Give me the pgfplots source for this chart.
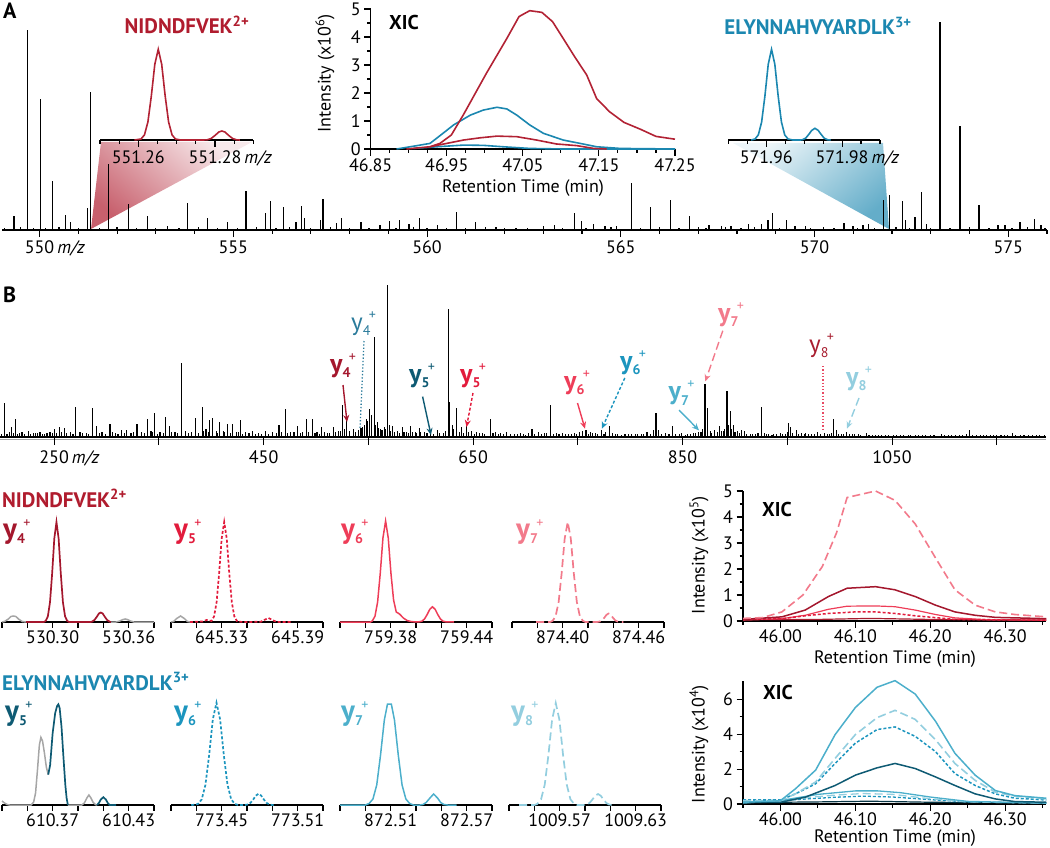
\documentclass[border=0pt]{standalone}
\usepackage{fontspec}
\setmainfont{PT Sans}
\usepackage{pgfplots}
\pgfplotsset{compat=1.18}
\usetikzlibrary{arrows.meta}
\newcommand\fs[1]{\fontsize{#1}{#1}\selectfont}
\definecolor{nred}{RGB}{176,28,46}
\definecolor{ared}{RGB}{178,34,52}
\definecolor{eblue}{RGB}{27,135,176}
\definecolor{r4}{RGB}{164,23,45}
\definecolor{r5}{RGB}{226,27,60}
\definecolor{r6}{RGB}{238,61,88}
\definecolor{r7}{RGB}{242,122,139}
\definecolor{r8}{RGB}{168,30,48}
\definecolor{b4}{RGB}{43,123,155}
\definecolor{b5}{RGB}{14,90,115}
\definecolor{b6}{RGB}{28,149,190}
\definecolor{b7}{RGB}{76,175,203}
\definecolor{b8}{RGB}{147,206,223}
% ion label: colour, series, digit, size of y
\newcommand\ion[4]{\textcolor{#1}{\fs{#4}#2y\fs{14}\raisebox{-0.42em}{#2#3}\kern-0.12em\raisebox{0.78em}{\mdseries+}}}
\tikzset{
 sdash/.style={dash pattern=on 3pt off 2pt},
 ldash/.style={dash pattern=on 8pt off 4pt},
}
\pgfplotsset{
 base/.style={scale only axis, clip=false, tick align=outside,
   tick style={line width=1.1pt, black},
   major tick length=7pt, minor tick length=4pt,
   tick label style={font=\fs{18}},
   /pgf/number format/assume math mode=true},
 xonly/.style={base, axis x line*=bottom, axis y line=none, axis line style={line width=1.1pt,-}, ymin=0, ytick=\empty},
 xyax/.style={base, axis x line*=bottom, axis y line*=left, axis line style={line width=1.1pt,-}},
 mini/.style={xonly, width=152pt, height=105pt, xmin=0, xmax=120, ymax=105, xtick={0,20,40,60,80,100,120}, major tick length=5.5pt},
}
\begin{document}
\begin{tikzpicture}
\path[use as bounding box] (0pt,0pt) rectangle (1050pt,-848pt);
% ---------- wedges ----------
\shade[top color=ared!10, bottom color=ared!72, shading angle=-40] (101pt,-142pt) -- (252pt,-142pt) -- (91pt,-229pt) -- cycle;
\shade[top color=eblue!8, bottom color=eblue!68, shading angle=40] (733pt,-143pt) -- (883pt,-143pt) -- (889pt,-229pt) -- cycle;
% ---------- Panel A spectrum ----------
\begin{axis}[xonly, at={(2pt,-230pt)}, anchor=south west, width=1045pt, height=210pt,
  xmin=549.03, xmax=576.0, ymax=210,
  xtick={550,555,560,565,570,575}, xticklabels={550\rlap{\,\textit{m/z}},555,560,565,570,575},
  minor xtick={551,552,553,554,556,557,558,559,561,562,563,564,566,567,568,569,571,572,573,574,576},
  minor tick length=3.5pt]
\addplot[ycomb, line width=1.3pt, black] coordinates {
(549.338,14) (549.686,200) (550.018,131) (550.340,49) (550.670,15) (550.801,8) (551.237,22) (551.306,138) (551.778,66) (552.298,26) (552.778,14) (553.301,4) (553.824,27) (554.329,12.5) (554.852,8.5) (555.331,39) (555.826,17) (555.968,29) (556.290,22.6) (556.619,8.5) (556.751,23.7) (556.838,12.5) (557.248,10) (557.318,31) (557.655,7) (557.797,12) (558.292,8.5) (558.789,5) (559.034,9) (559.294,10) (559.536,6) (559.799,12.5) (560.271,5) (560.758,18) (561.255,8.5) (561.778,3) (562.298,2) (563.007,4) (563.285,5) (563.808,17) (563.981,9) (564.303,6) (564.592,4) (564.896,4) (565.272,47) (565.767,23) (566.274,30) (566.769,14) (567.014,3) (567.274,5) (567.596,4) (567.841,4) (568.294,6) (568.624,6) (568.799,10) (568.920,17) (569.268,10) (569.495,4) (569.758,4) (570.237,3) (570.760,7) (570.994,4) (571.254,5) (571.386,6) (571.775,30) (571.930,35) (572.265,29) (572.343,10) (572.592,13) (572.762,38) (572.883,6) (573.236,208) (573.751,104) (574.241,25) (574.738,5) (574.918,5) (575.304,8) (575.684,11) (575.847,5)
(549.1,2)(549.2,1.5)(549.5,3)(549.85,2)(550.15,2)(550.5,3)(551.0,2)(551.55,2.5)(552.0,3)(552.5,2)(553.0,2.5)(553.6,2)(554.1,3)(554.6,2)(555.1,2.5)(555.6,3)(556.1,2)(556.45,3)(557.0,2.5)(557.5,3)(558.0,2)(558.5,2.5)(559.2,2)(559.65,3)(560.0,2)(560.5,2.5)(561.0,2)(561.5,3)(562.0,2)(562.6,2.5)(563.5,2)(564.1,2.5)(564.75,3)(565.5,2)(566.0,3)(566.5,2)(567.2,2)(567.7,3)(568.1,2.5)(568.45,3)(569.1,2)(569.9,2.5)(570.5,2)(571.1,2.5)(571.55,2)(572.1,3)(572.45,2.5)(573.0,2)(573.5,2.5)(574.0,3)(574.5,2)(575.1,2.5)(575.5,3)(575.95,2)};
\end{axis}
% inset NIDNDFVEK (x = (m/z - 551.25) x 1000)
\begin{axis}[xonly, at={(100pt,-140pt)}, anchor=south west, width=153.3pt, height=100pt,
  xmin=0, xmax=40, ymax=100, xtick={10,30}, xticklabels={551.26,551.28\rlap{\,\textit{m/z}}},
  minor xtick={0,5,15,20,25,35,40}, major tick length=6.7pt]
\addplot[ared, line width=1.6pt] coordinates {(9.0,0)(10.7,1.0)(11.6,5.1)(12.5,18)(13.4,44.2)(14.3,75.7)(15.2,90.7)(16.1,75.7)(17.0,44.2)(17.9,18)(18.8,5.1)(19.7,1.0)(21,0)(27,0)(28,0.2)(29,1.5)(30,4.5)(31,8)(31.8,9)(32.6,8)(33.6,4.5)(34.6,1.5)(35.6,0.2)(36.5,0)};
\end{axis}
\node[font=\fs{21}\bfseries, text=nred] at (187pt,-25pt) {NIDNDFVEK\textsuperscript{2+}};
% inset ELYNNAHVYARDLK (x = (m/z - 571.95) x 1000)
\begin{axis}[xonly, at={(728.3pt,-140pt)}, anchor=south west, width=151.7pt, height=100pt,
  xmin=0, xmax=40, ymax=100, xtick={10,30}, xticklabels={571.96,571.98\rlap{\,\textit{m/z}}},
  minor xtick={0,5,15,20,25,35,40}, major tick length=6.7pt]
\addplot[eblue, line width=1.6pt] coordinates {(6.0,0)(7.05,1.0)(7.92,5.1)(8.79,18)(9.66,44.2)(10.53,75.7)(11.4,90.7)(12.27,75.7)(13.14,44.2)(14.01,18)(14.88,5.1)(15.75,1.0)(17,0)(19,0)(19.5,0.2)(20.4,1.8)(21.2,5.5)(22.0,9.6)(22.85,11.7)(23.7,9.6)(24.5,5.5)(25.3,1.8)(26.2,0.2)(27,0)};
\end{axis}
\node[font=\fs{21}\bfseries, text=eblue] at (818pt,-26pt) {ELYNNAHVYARDLK\textsuperscript{3+}};
% XIC inset A
\begin{axis}[xyax, at={(370.7pt,-149pt)}, anchor=south west, width=304.3pt, height=140pt,
  xmin=46.85, xmax=47.25, ymin=0, ymax=5,
  xtick={46.85,46.95,47.05,47.15,47.25}, xticklabels={46.85,46.95,47.05,47.15,47.25},
  minor xtick={46.875,46.9,46.925,46.975,47.0,47.025,47.075,47.1,47.125,47.175,47.2,47.225},
  ytick={0,1,2,3,4,5}, minor ytick={0.5,1.5,2.5,3.5,4.5}, major tick length=6.5pt, minor tick length=3.5pt]
\addplot[eblue, line width=1.6pt] coordinates {(46.906,0.02)(46.937,0.08)(46.972,0.14)(46.998,0.13)(47.024,0.08)(47.059,0.02)(47.103,0)(47.25,0)};
\addplot[eblue, line width=1.6pt] coordinates {(46.884,0)(46.902,0.08)(46.928,0.2)(46.945,0.56)(46.959,0.86)(46.981,1.21)(46.998,1.39)(47.016,1.49)(47.029,1.43)(47.042,1.21)(47.059,0.86)(47.077,0.56)(47.103,0.32)(47.129,0.18)(47.147,0.08)(47.178,0.02)(47.25,0)};
\addplot[ared, line width=1.6pt] coordinates {(46.928,0.08)(46.95,0.2)(46.972,0.32)(46.994,0.4)(47.016,0.46)(47.042,0.44)(47.068,0.32)(47.094,0.18)(47.121,0.12)(47.143,0.02)(47.16,0)};
\addplot[ared, line width=1.6pt] coordinates {(46.897,0)(46.928,0.08)(46.941,0.2)(46.956,0.5)(46.972,1.23)(47.002,2.7)(47.029,3.95)(47.045,4.73)(47.059,4.94)(47.075,4.88)(47.089,4.55)(47.103,3.95)(47.118,3.3)(47.134,2.64)(47.147,1.8)(47.164,1.33)(47.183,0.95)(47.205,0.7)(47.225,0.45)(47.25,0.35)};
\end{axis}
\node[font=\fs{20}\bfseries] at (404pt,-22.5pt) {XIC};
\node[font=\fs{18}, rotate=90] at (325pt,-73.5pt) {Intensity (x10\textsuperscript{6})};
\node[font=\fs{18}] at (523pt,-188pt) {Retention Time (min)};
\node[anchor=base west, inner sep=0, font=\fs{22}\bfseries] at (3pt,-19pt) {A};
% ---------- Panel B spectrum ----------
\node[anchor=base west, inner sep=0, font=\fs{22}\bfseries] at (3pt,-302pt) {B};
\draw[black!35, line width=1.8pt] (0pt,-439.5pt) -- (1046pt,-439.5pt);
\begin{axis}[xonly, at={(0pt,-437pt)}, anchor=south west, width=1046pt, height=160pt,
  xmin=198.3, xmax=1197, ymax=160,
  xtick={250,350,450,550,650,750,850,950,1050,1150},
  xticklabels={250\rlap{\,\textit{m/z}},,450,,650,,850,,1050,},
  major tick length=8pt, xticklabel style={yshift=-2pt}]
\addplot[ycomb, line width=1.1pt, black] coordinates {
(202.3,34)(209.0,10)(213.5,17.6)(219.3,5)(225.1,6)(229.9,4)(236.5,5)(243.2,4)(250.0,8)(254.9,10)(259.6,9)(265.2,5)(270.0,30)(274.7,5)(280.5,4)(286.2,29)(290.3,11)(295.7,5)(303.3,13.5)(308.2,4)(314.6,7)(319.4,7)(323.4,4)(329.1,13.5)(333.0,5)(338.8,18)(342.5,6)(346.2,24)(351.1,5)(356.6,20)(359.7,11)(365.4,5)(372.0,74)(377.9,4)(384.9,19)(391.4,30)(395.0,8)(398.5,17)(401.1,19)(404.6,6)(408.1,15)(411.3,6)(415.3,13.5)(420.4,13.5)(423.7,5)(427.5,17)(432.3,5)(439.0,6)(444.7,4)(451.4,6)(458.1,5)(464.7,12.5)(470.5,28)(475.3,5)(482.4,11)(486.7,5)(490.5,18)(496.9,17.6)(501.0,5)(505.0,10)(510.6,4)(516.3,10)(521.1,6)(525.0,32)(529.2,17.6)(535.7,8)(540.6,7)(544.0,10)(547.8,18)(550.7,28)(552.6,22)(555.7,100)(558.3,15)(561.2,8)(565.0,10)(568.0,152)(569.8,12)(572.8,11)(577.4,6)(582.5,10)(586.0,5)(590.6,11)(594.6,5)(598.6,9)(603.2,5)(608.9,6)(616.4,7)(621.3,4)(626.1,128)(627.7,35)(629.9,12)(634.1,29)(639.0,10)(643.8,11)(648.1,6)(653.5,5)(658.6,4)(666.4,18)(671.0,5)(676.1,4)(681.5,5)(689.1,3)(694.9,4)(700.3,2)(706.2,8)(712.1,5)(717.8,4)(723.9,32)(729.3,4)(735.3,4)(740.7,3)(746.4,4)(751.4,5)(754.6,6)(757.8,7)(761.7,5)(766.5,4)(772.3,7)(776.0,5)(780.4,11.5)(785.6,3)(791.7,2)(798.0,3)(804.7,3)(810.4,3)(816.0,5)(822.4,7)(824.6,24)(827.2,7)(833.3,4)(840.1,11.5)(846.7,3)(853.1,2)(857.2,3)(862.7,4)(867.6,5)(871.4,53)(873.4,29)(876.3,6)(880.5,7)(885.4,11.5)(888.7,6)(892.4,46)(895.7,26)(898.3,12.5)(902.1,6)(906.3,7)(909.5,6)(914.5,3)(919.3,3)(925.0,30)(929.8,3)(935.4,2)(939.3,3)(943.4,4)(947.9,3)(951.5,14)(953.2,10)(958.9,7)(963.2,4)(967.7,4)(972.8,3)(979.0,5)(985.5,4)(990.0,3)(994.4,17.6)(996.7,7)(1001.4,3)(1006.4,5)(1011.9,3)(1017.6,3)(1025.7,4)(1031.0,2)(1037.1,2)(1043.4,2)(1051.1,2)(1057.7,2)(1065.4,2)(1072.1,2)(1078.8,2)(1086.4,2)(1096.8,3)(1103.6,2)(1110.3,2)(1117.0,2)(1124.2,7)(1130.3,2)(1137.2,2)(1143.7,2)(1150.1,2)(1157.1,2)(1164.6,4)(1172.3,2)(1180.0,2)(1187.6,2)(1195.3,2)
(200,3)(205,3)(207,5)(211,4)(215,3)(217,4)(222,3)(227,3)(232,4)(234,4)(239,3)(241,3)(246,5)(248,4)(252,4)(257,5)(262,4)(268,3)(277,4)(283,3)(293,4)(299,3)(306,5)(311,3)(317,4)(326,5)(336,4)(344,5)(349,3)(354,4)(362,5)(368,4)(375,6)(381,5)(388,4)(393,6)(397,5)(406,4)(413,5)(418,4)(426,5)(430,3)(436,4)(442,3)(448,3)(455,3)(462,4)(467,5)(473,4)(479,5)(485,4)(493,5)(499,4)(503,3)(508,5)(513,4)(519,5)(523,6)(527,8)(532,6)(538,5)(543,9)(546,12)(549,16)(553,18)(557,12)(560,9)(563,7)(566,8)(571,6)(575,5)(580,4)(584,5)(588,4)(592,5)(596,4)(600,5)(606,4)(612,3)(618,4)(624,6)(631,8)(637,5)(641,4)(646,5)(651,3)(656,4)(661,3)(669,4)(674,3)(679,3)(686,3)(692,3)(698,3)(703,4)(709,3)(715,3)(720,4)(727,3)(732,3)(738,3)(744,3)(749,3)(760,3)(764,4)(769,3)(775,3)(783,4)(788,3)(795,3)(801,3)(807,3)(813,3)(819,3)(830,3)(837,3)(843,3)(849,4)(855,3)(860,4)(865,5)(869,8)(878,4)(883,5)(887,6)(890,8)(894,12)(897,8)(900,5)(904,4)(911,3)(917,3)(922,4)(928,4)(932,3)(937,3)(945,3)(950,5)(955,4)(961,3)(966,3)(970,3)(976,3)(982,3)(988,3)(992,4)(999,3)(1004,3)(1009,3)(1014,3)(1020,2)(1028,2)(1034,2)(1040,2)(1047,2)(1054,2)(1061,2)(1068,2)(1075,2)(1082,2)(1090,2)(1100,2)(1107,2)(1114,2)(1121,3)(1127,2)(1134,2)(1140,2)(1147,2)(1154,2)(1160,2)(1168,2)(1176,2)(1184,2)(1191,2)};
\end{axis}
% annotations B
\draw[b4, line width=1.3pt, dotted] (364pt,-341pt) -- (360pt,-429pt);
\node[anchor=base west, inner sep=0] at (351pt,-330pt) {\ion{b4}{\mdseries}{4}{25}};
\draw[r4, line width=1.4pt, -{Stealth[length=7pt,width=6pt]}] (343pt,-385pt) -- (347pt,-422pt);
\node[anchor=base west, inner sep=0] at (330pt,-372pt) {\ion{r4}{\bfseries}{4}{26}};
\draw[b5, line width=1.4pt, -{Stealth[length=7pt,width=6pt]}] (422.6pt,-396.6pt) -- (431pt,-435pt);
\node[anchor=base west, inner sep=0] at (409pt,-382pt) {\ion{b5}{\bfseries}{5}{26}};
\draw[r5, line width=1.4pt, sdash, -{Stealth[length=7pt,width=6pt]}] (473pt,-393pt) -- (466.5pt,-427pt);
\node[anchor=base west, inner sep=0] at (460pt,-382pt) {\ion{r5}{\bfseries}{5}{26}};
\draw[r6, line width=1.4pt, -{Stealth[length=7pt,width=6pt]}] (577.5pt,-403pt) -- (585pt,-428.7pt);
\node[anchor=base west, inner sep=0] at (564pt,-389pt) {\ion{r6}{\bfseries}{6}{26}};
\draw[b6, line width=1.4pt, sdash, -{Stealth[length=7pt,width=6pt]}] (624.8pt,-378pt) -- (601.8pt,-428.7pt);
\node[anchor=base west, inner sep=0] at (620pt,-369pt) {\ion{b6}{\bfseries}{6}{26}};
\draw[r7, line width=1.4pt, ldash, -{Stealth[length=7pt,width=6pt]}] (722.8pt,-330.7pt) -- (705.3pt,-381.4pt);
\node[anchor=base west, inner sep=0] at (718pt,-321pt) {\ion{r7}{\bfseries}{7}{26}};
\draw[b7, line width=1.4pt, -{Stealth[length=7pt,width=6pt]}] (679pt,-410pt) -- (699pt,-430.4pt);
\node[anchor=base west, inner sep=0] at (668.5pt,-399.5pt) {\ion{b7}{\bfseries}{7}{26}};
\draw[r5!80, line width=1.3pt, dotted] (823pt,-366pt) -- (823pt,-430pt);
\node[anchor=base west, inner sep=0] at (809pt,-352pt) {\ion{r8}{\mdseries}{8}{25}};
\draw[b8, line width=1.4pt, ldash, -{Stealth[length=7pt,width=6pt]}] (859pt,-398pt) -- (847pt,-428.7pt);
\node[anchor=base west, inner sep=0] at (846pt,-385pt) {\ion{b8}{\bfseries}{8}{26}};
% ---------- Row 1: NIDNDFVEK fragments (x = (m/z - left) x 1000) ----------
\node[anchor=base west, inner sep=0, font=\fs{21}\bfseries, text=nred] at (2pt,-507pt) {NIDNDFVEK\textsuperscript{2+}};
\begin{axis}[mini, at={(2pt,-622pt)}, anchor=south west, xticklabels={,,530.30,,,530.36,}]
\addplot[black!35, line width=1.5pt] coordinates {(0,0)(2,0.5)(5,3)(7,5.5)(9,6)(11,5.5)(13,3)(16,0.5)(19,0)};
\addplot[black!35, line width=1.5pt] coordinates {(86,0)(90,0)(93,1)(95.5,2.5)(97.3,3)(99,2.5)(101.5,1)(104,0)(120,0)};
\addplot[r4, line width=1.7pt] coordinates {(19,0)(33,0)(34.5,1.1)(36.2,5.6)(37.9,19.8)(39.6,48.7)(41.3,83.5)(43,100)(44.7,83.5)(46.4,48.7)(48.1,19.8)(49.8,5.6)(51.5,1.1)(53,0)(70,0)(71,0.3)(73,2)(75,5.5)(76.5,8.5)(78,9.5)(79.5,8.5)(81,5.5)(83,2)(85,0.3)(86,0)};
\end{axis}
\node[anchor=base west, inner sep=0] at (3pt,-538pt) {\ion{r4}{\bfseries}{4}{29}};
\begin{axis}[mini, at={(171pt,-622pt)}, anchor=south west, xticklabels={,,645.33,,,645.39,}]
\addplot[black!35, line width=1.5pt] coordinates {(0,0)(2,0.5)(4.5,3.5)(7.6,6)(10.5,3.5)(13,0.5)(15,0)};
\addplot[r5, line width=1.7pt, sdash] coordinates {(15,0)(25,0.5)(28,2)(30,1.5)(32,1.1)(34,5.6)(36,19.8)(38,48.7)(40,83.5)(42,100)(44,83.5)(46,48.7)(48,19.8)(50,5.6)(52,1.1)(54,0.2)(60,0)(71,0.3)(73.5,2)(77,4)(80,2)(83,0.3)(86,0)(95,0)};
\end{axis}
\node[anchor=base west, inner sep=0] at (174pt,-538pt) {\ion{r5}{\bfseries}{5}{29}};
\begin{axis}[mini, at={(340pt,-622pt)}, anchor=south west, xticklabels={,,759.38,,,759.44,}]
\addplot[r6, line width=1.5pt] coordinates {(0,0)(24,0)(25.5,1.1)(27.6,5.7)(29.7,20)(31.8,49)(33.9,84)(36,101)(38.1,84)(40.2,49)(42.3,22)(44.4,10)(47,8)(50,4)(53,1.5)(56,0.5)(60,0)(62.5,0.2)(64.6,0.8)(66.7,3)(68.8,7.4)(70.9,12.7)(73,15.2)(75.1,12.7)(77.2,7.4)(79.3,3)(81.4,0.8)(83.5,0.2)(90,0)};
\end{axis}
\node[anchor=base west, inner sep=0] at (341pt,-538pt) {\ion{r6}{\bfseries}{6}{29}};
\begin{axis}[mini, at={(512pt,-622pt)}, anchor=south west, xticklabels={,,874.40,,,874.46,}]
\addplot[r7, line width=1.7pt, ldash] coordinates {(19,0)(30,0)(32,1.1)(34.4,5.6)(36.8,19.8)(39.2,48.7)(41.6,83.5)(44,100)(46.4,83.5)(48.8,48.7)(51.2,19.8)(53.6,5.6)(56,1.1)(58,0)(66,0)(67.5,0.1)(69.3,0.5)(71,1.7)(72.8,4.1)(74.5,7.1)(76.3,8.5)(78,7.1)(79.8,4.1)(81.5,1.7)(83.3,0.5)(85,0.1)(88,0)};
\end{axis}
\node[anchor=base west, inner sep=0] at (516pt,-538pt) {\ion{r7}{\bfseries}{7}{29}};
% XIC row 1
\begin{axis}[xyax, at={(743pt,-621pt)}, anchor=south west, width=303.3pt, height=130pt,
  xmin=45.95, xmax=46.355, ymin=0, ymax=5, xticklabel style={inner sep=1.5pt},
  xtick={46.0,46.1,46.2,46.3}, xticklabels={46.00,46.10,46.20,46.30}, minor xtick={45.95,46.05,46.15,46.25,46.35},
  ytick={0,1,2,3,4,5}, minor ytick={0.5,1.5,2.5,3.5,4.5}, major tick length=6.5pt, minor tick length=3.5pt]
\addplot[r8, line width=1.2pt] coordinates {(45.95,0.05)(46.05,0.06)(46.12,0.1)(46.2,0.06)(46.355,0.04)};
\addplot[r6, line width=1.2pt] coordinates {(45.95,0.04)(46.002,0.09)(46.033,0.22)(46.064,0.45)(46.089,0.57)(46.127,0.58)(46.153,0.55)(46.18,0.42)(46.207,0.25)(46.233,0.12)(46.276,0.05)(46.355,0.03)};
\addplot[r5, line width=1.5pt, sdash] coordinates {(45.95,0.06)(46.002,0.09)(46.033,0.2)(46.064,0.29)(46.1,0.35)(46.127,0.35)(46.153,0.29)(46.18,0.2)(46.207,0.13)(46.233,0.06)(46.355,0.03)};
\addplot[r4, line width=1.5pt] coordinates {(45.95,0.06)(46.002,0.16)(46.033,0.42)(46.064,0.94)(46.089,1.26)(46.127,1.32)(46.153,1.2)(46.18,0.94)(46.207,0.61)(46.233,0.35)(46.26,0.22)(46.287,0.14)(46.355,0.09)};
\addplot[r7, line width=1.6pt, ldash] coordinates {(45.95,0.1)(45.976,0.13)(46.002,0.35)(46.03,1.0)(46.056,2.1)(46.075,3.4)(46.089,4.75)(46.127,5.0)(46.153,4.64)(46.18,3.73)(46.207,2.43)(46.233,1.2)(46.26,0.61)(46.287,0.35)(46.313,0.25)(46.355,0.16)};
\end{axis}
\node[font=\fs{20}\bfseries] at (777pt,-509pt) {XIC};
\node[font=\fs{18}, rotate=90] at (699pt,-555pt) {Intensity (x10\textsuperscript{5})};
\node[font=\fs{18}, inner sep=1pt] at (895pt,-659pt) {Retention Time (min)};
% ---------- Row 2: ELYNNAHVYARDLK fragments ----------
\node[anchor=base west, inner sep=0, font=\fs{21}\bfseries, text=eblue] at (2pt,-690pt) {ELYNNAHVYARDLK\textsuperscript{3+}};
\begin{axis}[mini, at={(2pt,-805pt)}, anchor=south west, xticklabels={,,610.37,,,610.43,}]
\addplot[black!35, line width=1.5pt] coordinates {(0,4)(2,2)(4,0.5)(6,0)(23,0)(25,3)(26.5,12)(28,35)(29.5,60)(30.7,67.6)(32,64)(33.5,52)(35,38)(36.5,30.4)};
\addplot[black!35, line width=1.5pt] coordinates {(52,0)(63,0)(65,2)(67,7)(68.6,10)(70,7.5)(72,2.5)(74,0.3)(75,0)};
\addplot[b5, line width=1.7pt] coordinates {(36.5,30.4)(38,40)(40,72)(42,92)(43.5,99)(44.5,100.7)(45.5,97)(47,78)(48.5,48)(50,20)(51,7)(52,0)};
\addplot[b5, line width=1.7pt] coordinates {(75,0)(76.5,2)(78,5.5)(80,7.8)(82,5.5)(83.5,2)(85,0)(90,0)};
\end{axis}
\node[anchor=base west, inner sep=0] at (5pt,-720pt) {\ion{b5}{\bfseries}{5}{29}};
\begin{axis}[mini, at={(171pt,-805pt)}, anchor=south west, xticklabels={,,773.45,,,773.51,}]
\addplot[b6, line width=1.7pt, sdash] coordinates {(16,0)(19,0.3)(21.4,1.1)(24.3,5.7)(27.2,20.3)(30.1,49.9)(33.0,85.5)(35.9,102.4)(38.8,85.5)(41.7,49.9)(44.6,20.3)(47.5,5.7)(50.4,1.1)(53,0)(57,0)(58.6,0.1)(60.7,0.6)(62.8,2.2)(64.9,5.5)(67.0,9.4)(69.1,11.2)(71.2,9.4)(73.3,5.5)(75.4,2.2)(77.5,0.6)(79.6,0.1)(82,0)};
\end{axis}
\node[anchor=base west, inner sep=0] at (174pt,-720pt) {\ion{b6}{\bfseries}{6}{29}};
\begin{axis}[mini, at={(340pt,-805pt)}, anchor=south west, xticklabels={,,872.51,,,872.57,}]
\addplot[b7, line width=1.5pt] coordinates {(0,0)(20,0)(23,1.5)(26,6)(29,20)(32,50)(35,85)(37.5,101)(40.5,101)(43,85)(46,50)(49,20)(52,6)(55,1.5)(58,0)(63,0)(65.5,0.5)(68,2.5)(71,7)(73.9,11)(77,7)(79.5,2.5)(82,0.5)(85,0)(92,0)};
\end{axis}
\node[anchor=base west, inner sep=0] at (341pt,-720pt) {\ion{b7}{\bfseries}{7}{29}};
\begin{axis}[mini, at={(509pt,-805pt)}, anchor=south west, xticklabels={,,1009.57,,,1009.63,}]
\addplot[b8, line width=1.7pt, ldash] coordinates {(8,0)(20,0)(22.4,1.1)(25.3,5.7)(28.2,20.2)(31.1,49.7)(34.0,85.2)(36.9,102)(39.8,85.2)(42.7,49.7)(45.6,20.2)(48.5,5.7)(51.4,1.1)(54,0)(58,0)(59.5,0.1)(61.6,0.6)(63.7,2.2)(65.8,5.4)(68.0,9.2)(70.3,11)(72.5,9.2)(74.6,5.4)(76.7,2.2)(78.8,0.6)(80.9,0.1)(84,0)};
\end{axis}
\node[anchor=base west, inner sep=0] at (511pt,-720pt) {\ion{b8}{\bfseries}{8}{29}};
% XIC row 2
\begin{axis}[xyax, at={(743pt,-804pt)}, anchor=south west, width=303.3pt, height=123.2pt,
  xmin=45.95, xmax=46.355, ymin=0, ymax=7.05, xticklabel style={inner sep=1.5pt},
  xtick={46.0,46.1,46.2,46.3}, xticklabels={46.00,46.10,46.20,46.30}, minor xtick={45.95,46.05,46.15,46.25,46.35},
  ytick={0,2,4,6}, minor ytick={1,3,5}, major tick length=6.5pt, minor tick length=3.5pt]
\addplot[b5!60!black, line width=1.2pt] coordinates {(45.95,0.08)(46.05,0.12)(46.12,0.16)(46.2,0.1)(46.355,0.06)};
\addplot[b6, line width=1.3pt, sdash] coordinates {(45.95,0.15)(46.02,0.25)(46.07,0.38)(46.11,0.45)(46.15,0.4)(46.2,0.25)(46.25,0.12)(46.355,0.06)};
\addplot[b8, line width=1.3pt, ldash] coordinates {(45.95,0.12)(46.02,0.3)(46.07,0.5)(46.11,0.6)(46.15,0.55)(46.2,0.3)(46.25,0.12)(46.355,0.05)};
\addplot[b7, line width=1.3pt] coordinates {(45.95,0.05)(46.0,0.2)(46.05,0.55)(46.1,0.75)(46.13,0.75)(46.16,0.65)(46.2,0.4)(46.25,0.15)(46.355,0.05)};
\addplot[b5, line width=1.5pt] coordinates {(45.95,0.1)(46.0,0.1)(46.033,0.39)(46.073,1.06)(46.1,1.65)(46.129,2.07)(46.153,2.32)(46.18,2.03)(46.207,1.55)(46.233,1.06)(46.26,0.58)(46.287,0.29)(46.313,0.14)(46.355,0.1)};
\addplot[b6, line width=1.5pt, sdash] coordinates {(45.95,0.23)(46.0,0.23)(46.02,0.58)(46.047,1.16)(46.073,2.32)(46.1,3.48)(46.129,4.26)(46.153,4.41)(46.18,3.87)(46.207,3.0)(46.233,1.74)(46.26,1.06)(46.287,0.58)(46.313,0.33)(46.355,0.23)};
\addplot[b8, line width=1.6pt, ldash] coordinates {(45.95,0.19)(46.0,0.19)(46.02,0.58)(46.047,1.26)(46.073,2.61)(46.1,3.97)(46.129,4.94)(46.153,5.36)(46.18,4.84)(46.207,3.68)(46.233,2.32)(46.26,1.35)(46.287,0.68)(46.313,0.45)(46.355,0.29)};
\addplot[b7, line width=1.5pt] coordinates {(45.95,0.1)(46.0,0.19)(46.02,0.87)(46.047,1.94)(46.073,3.97)(46.1,5.52)(46.129,6.68)(46.153,7.06)(46.18,6.29)(46.207,4.74)(46.233,2.9)(46.26,1.65)(46.287,0.77)(46.313,0.48)(46.355,0.33)};
\end{axis}
\node[font=\fs{20}\bfseries] at (778pt,-692pt) {XIC};
\node[font=\fs{18}, rotate=90] at (699pt,-744pt) {Intensity (x10\textsuperscript{4})};
\node[font=\fs{18}, inner sep=1pt] at (895pt,-838pt) {Retention Time (min)};
\end{tikzpicture}
\end{document}
